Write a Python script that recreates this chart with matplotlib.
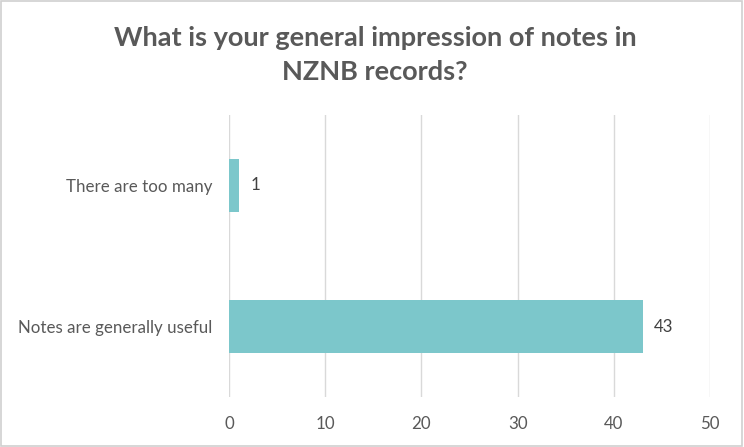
import matplotlib.pyplot as plt
import matplotlib.patches as patches

categories = ["Notes are generally useful", "There are too many"]
values = [43, 1]
xticks = [0, 10, 20, 30, 40, 50]

title = "What is your general impression of notes in\nNZNB records?"
bar_color = "#7CC7CB"
text_color = "#595959"
grid_color = "#D9D9D9"

plt.rcParams["font.family"] = ["Lato", "DejaVu Sans"]

fig = plt.figure(figsize=(7.44, 4.47), dpi=100)
fig.patch.set_facecolor("white")
ax = fig.add_axes([229 / 744, 1 - 397 / 447, 481 / 744, 282 / 447])

bars = ax.barh(range(len(categories)), values, height=0.37, color=bar_color, zorder=3)
ax.set_ylim(-0.5, 1.5)
ax.set_xlim(0, 50)
ax.set_xticks(xticks)
ax.set_yticks(range(len(categories)))
ax.set_yticklabels(categories)

for v, b in zip(values, bars):
    ax.text(v + 1.2, b.get_y() + b.get_height() / 2, str(v),
            va="center", ha="left", fontsize=12.2, color="#404040")

ax.grid(axis="x", color=grid_color, linewidth=1, zorder=0)
for s in ax.spines.values():
    s.set_visible(False)
ax.tick_params(axis="both", length=0, labelsize=12.2, colors=text_color)
ax.tick_params(axis="x", pad=14)
ax.tick_params(axis="y", pad=12)

fig.text(375 / 744, 1 - 55 / 447, title, ha="center", va="center",
         fontsize=19.5, fontweight="bold", color=text_color, linespacing=1.45)

fig.add_artist(patches.Rectangle((0.002, 0.003), 0.995, 0.994, transform=fig.transFigure,
                                 fill=False, edgecolor="#D0D0D0", linewidth=1.2))

fig.savefig("out.png", dpi=100, facecolor="white")
